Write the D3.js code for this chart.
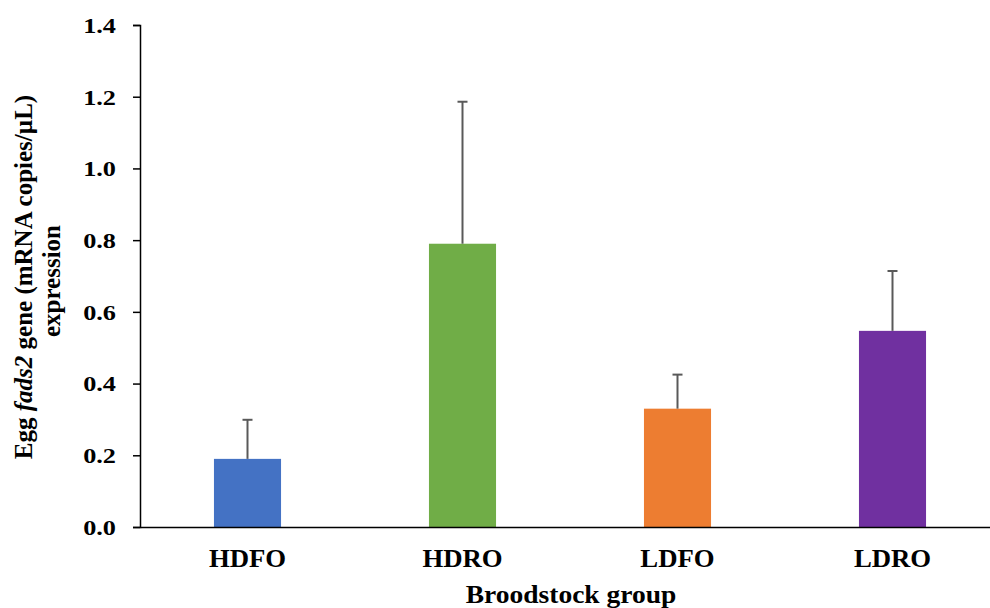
<!DOCTYPE html>
<html>
<head>
<meta charset="utf-8">
<script src="https://cdn.jsdelivr.net/npm/d3@7"></script>
<style>
  html, body { margin: 0; padding: 0; background: #fff; }
  svg { display: block; }
  text { font-family: "Liberation Serif", "Times New Roman", serif; font-weight: bold; fill: #000; }
</style>
</head>
<body>
<svg id="chart" width="990" height="608"></svg>
<script>
const categories = ["HDFO", "HDRO", "LDFO", "LDRO"];
const means = [0.19, 0.79, 0.33, 0.547];
const errors = [0.109, 0.396, 0.095, 0.167];
const barColors = ["#4472C4", "#70AD47", "#ED7D31", "#7030A0"];
const yTicks = [0.0, 0.2, 0.4, 0.6, 0.8, 1.0, 1.2, 1.4];
const xTitle = "Broodstock group";

const svg = d3.select("#chart");
const x0 = 140, x1 = 1000, yTop = 25, yBot = 527;

const x = d3.scaleBand().domain(categories).range([x0, x1]).paddingInner(0.688).paddingOuter(0.344);
const y = d3.scaleLinear().domain([0, 1.4]).range([yBot, yTop]);

// bars
svg.append("g").selectAll("rect").data(categories).join("rect")
  .attr("x", d => x(d))
  .attr("width", x.bandwidth())
  .attr("y", (d, i) => y(means[i]))
  .attr("height", (d, i) => y(0) - y(means[i]))
  .attr("fill", (d, i) => barColors[i]);

// error bars (upper only)
const eg = svg.append("g").attr("stroke", "#595959").attr("stroke-width", 2);
categories.forEach((c, i) => {
  const cx = x(c) + x.bandwidth() / 2;
  eg.append("line").attr("x1", cx).attr("x2", cx)
    .attr("y1", y(means[i])).attr("y2", y(means[i] + errors[i]));
  eg.append("line").attr("x1", cx - 5).attr("x2", cx + 5)
    .attr("y1", y(means[i] + errors[i])).attr("y2", y(means[i] + errors[i]));
});

// y axis
const yAxis = svg.append("g").attr("transform", `translate(${x0},0)`)
  .call(d3.axisLeft(y).tickValues(yTicks).tickFormat(d3.format(".1f")).tickSizeOuter(0).tickSize(7));
yAxis.select(".domain").attr("stroke", "#000").attr("stroke-width", 1.5);
yAxis.selectAll(".tick line").attr("stroke", "#000").attr("stroke-width", 1.5);
yAxis.selectAll(".tick text")
  .attr("x", 0)
  .attr("transform", "translate(-24,0) scale(1.25,1)")
  .attr("dy", "0.35em")
  .style("font-size", "21px")
  .style("font-family", "'Liberation Serif', serif")
  .style("font-weight", "bold");

// x axis line
const xAxis = svg.append("g").attr("transform", `translate(0,${yBot})`)
  .call(d3.axisBottom(x).tickSize(0).tickSizeOuter(0).tickPadding(0));
xAxis.select(".domain").attr("stroke", "#000").attr("stroke-width", 1.5);
xAxis.selectAll(".tick text")
  .attr("y", 0).attr("dy", 0)
  .attr("transform", "translate(0,40) scale(1.07,1)")
  .style("font-size", "25px")
  .style("font-family", "'Liberation Serif', serif")
  .style("font-weight", "bold");

// x title
svg.append("text")
  .attr("transform", `translate(${(x0 + x1) / 2 + 1},603) scale(1.1,1)`)
  .attr("text-anchor", "middle")
  .style("font-size", "25px")
  .text(xTitle);

// y title
const yt = svg.append("text")
  .attr("transform", "translate(32,277) rotate(-90)")
  .attr("text-anchor", "middle")
  .style("font-size", "25px");
yt.append("tspan").text("Egg ");
yt.append("tspan").style("font-style", "italic").text("fads2");
yt.append("tspan").text(" gene (mRNA copies/µL)");
svg.append("text")
  .attr("transform", "translate(60,281) rotate(-90)")
  .attr("text-anchor", "middle")
  .style("font-size", "25px")
  .text("expression");
</script>
</body>
</html>
